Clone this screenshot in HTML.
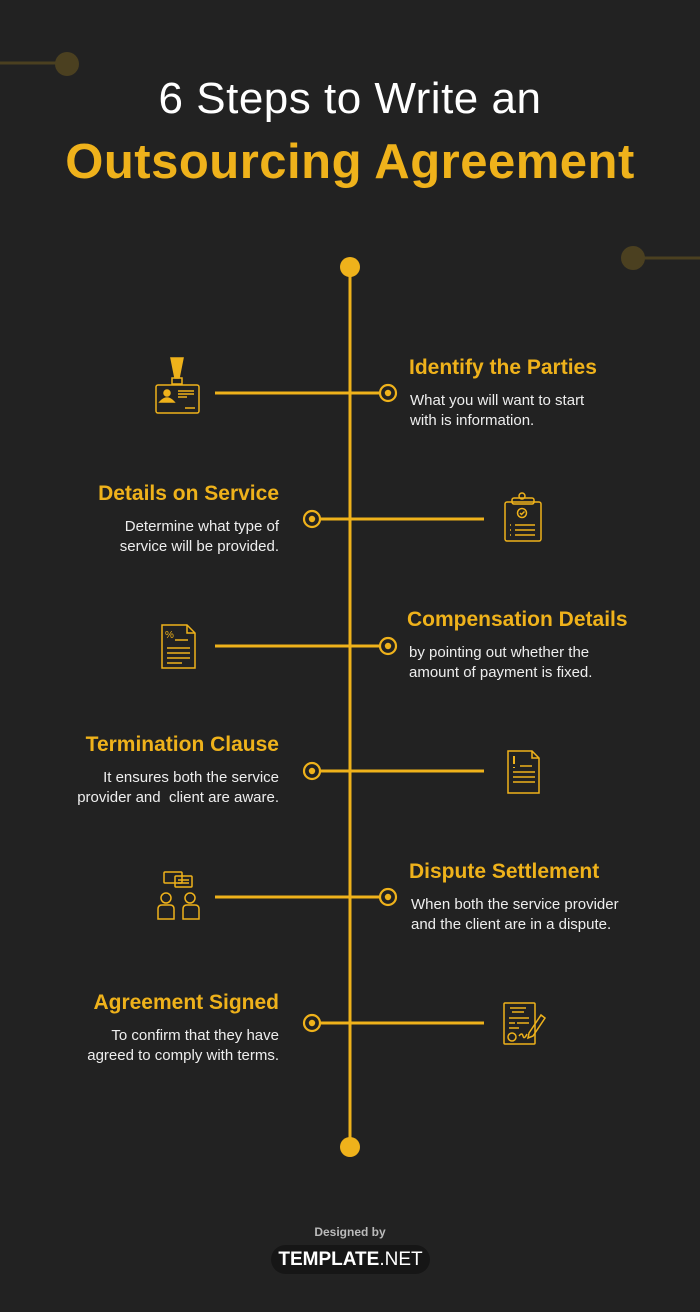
<!DOCTYPE html>
<html><head><meta charset="utf-8"><style>
html,body{margin:0;padding:0;background:#222222;}
body{width:700px;height:1312px;position:relative;overflow:hidden;font-family:"Liberation Sans",sans-serif;}
.t{position:absolute;font-weight:bold;font-size:21px;color:#efb21b;white-space:nowrap;}
.b{position:absolute;font-size:15px;line-height:20px;color:#eee;white-space:nowrap;}
.r{text-align:right;}
</style></head><body>
<svg width="700" height="1312" style="position:absolute;left:0;top:0">
<g fill="#4b4020" stroke="#4b4020">
<line x1="0" y1="63" x2="58" y2="63" stroke-width="3"/><circle cx="67" cy="64" r="12" stroke="none"/>
<line x1="640" y1="258" x2="700" y2="258" stroke-width="3"/><circle cx="633" cy="258" r="12" stroke="none"/>
</g>
<g stroke="#efb21b" stroke-width="3" fill="none">
<line x1="350" y1="267" x2="350" y2="1147"/>
<line x1="215" y1="393" x2="381" y2="393"/>
<line x1="319" y1="519" x2="484" y2="519"/>
<line x1="215" y1="646" x2="381" y2="646"/>
<line x1="319" y1="771" x2="484" y2="771"/>
<line x1="215" y1="897" x2="381" y2="897"/>
<line x1="319" y1="1023" x2="484" y2="1023"/>
<g stroke-width="2.2">
<circle cx="388" cy="393" r="8"/><circle cx="312" cy="519" r="8"/><circle cx="388" cy="646" r="8"/>
<circle cx="312" cy="771" r="8"/><circle cx="388" cy="897" r="8"/><circle cx="312" cy="1023" r="8"/>
</g>
</g>
<g fill="#efb21b">
<circle cx="350" cy="267" r="10"/><circle cx="350" cy="1147" r="10"/>
<circle cx="388" cy="393" r="3.2"/><circle cx="312" cy="519" r="3.2"/><circle cx="388" cy="646" r="3.2"/>
<circle cx="312" cy="771" r="3.2"/><circle cx="388" cy="897" r="3.2"/><circle cx="312" cy="1023" r="3.2"/>
</g>
<g stroke="#efb21b" stroke-width="1.5" fill="none">
<rect x="156" y="385" width="43" height="28" rx="2"/>
<polygon points="171,358 183,358 179,378 175,378" fill="#efb21b"/>
<rect x="172" y="378" width="10" height="6"/>
<circle cx="167" cy="393" r="3" fill="#efb21b"/><path d="M160 402 q7-8 14 0z" fill="#efb21b"/>
<path d="M178 391h16M178 394h16M178 397h9M185 408h10"/>
<rect x="505" y="502" width="36" height="39" rx="2"/>
<rect x="512" y="498" width="22" height="6" rx="2"/><circle cx="522" cy="496" r="3"/>
<circle cx="522" cy="513" r="4.5"/><path d="M520 513l1.5 1.5 3-3"/>
<path d="M510 525h1M515 525h20M510 530h1M515 530h20M510 535h1M515 535h20"/>
<path d="M162 625h25l8 8v35h-33z"/><path d="M187 625v8h8"/>
<text x="165" y="638" font-size="10" fill="#efb21b" stroke="none" font-family="Liberation Sans">%</text>
<path d="M175 640h13M167 648h23M167 653h23M167 658h23M167 663h15"/>
<path d="M508 751h24l7 7v35h-31z"/><path d="M532 751v7h7"/>
<path d="M514 756v8M514 767v1" stroke-width="2"/>
<path d="M520 766h12M513 772h22M513 777h22M513 782h22"/>
<rect x="164" y="872" width="18" height="11" rx="1"/><rect x="175" y="876" width="17" height="11" rx="1"/>
<path d="M178 880h11M178 883h11"/>
<circle cx="166" cy="898" r="5"/><circle cx="190" cy="898" r="5"/>
<path d="M158 919v-10q0-4 4-4h8q4 0 4 4v10zM183 919v-10q0-4 4-4h8q4 0 4 4v10z"/>
<rect x="504" y="1003" width="31" height="41" rx="1"/>
<path d="M510 1008h16M512 1012h12M509 1018h20M509 1023h6M517 1023h12M509 1028h10"/>
<circle cx="512" cy="1037" r="4"/><path d="M519 1036q3-4 4 0t4-2"/>
<path d="M529 1033l12-18 4 3-12 18-5 2z"/>
</g>
</svg>
<div style="position:absolute;left:0;width:700px;top:74px;text-align:center;color:#fff;font-size:44px;letter-spacing:0.5px;">6 Steps to Write an</div>
<div style="position:absolute;left:0;width:700px;top:134px;text-align:center;color:#efb21b;font-size:49px;font-weight:bold;letter-spacing:0.5px;">Outsourcing Agreement</div>

<div class="t" style="left:409px;top:356px">Identify the Parties</div>
<div class="b" style="left:410px;top:391px">What you will want to start<br>with is information.</div>

<div class="t r" style="right:421px;top:482px">Details on Service</div>
<div class="b r" style="right:421px;top:517px">Determine what type of<br>service will be provided.</div>

<div class="t" style="left:407px;top:608px">Compensation Details</div>
<div class="b" style="left:409px;top:643px">by pointing out whether the<br>amount of payment is fixed.</div>

<div class="t r" style="right:421px;top:733px">Termination Clause</div>
<div class="b r" style="right:421px;top:768px">It ensures both the service<br>provider and&nbsp; client are aware.</div>

<div class="t" style="left:409px;top:860px">Dispute Settlement</div>
<div class="b" style="left:411px;top:895px">When both the service provider<br>and the client are in a dispute.</div>

<div class="t r" style="right:421px;top:991px">Agreement Signed</div>
<div class="b r" style="right:421px;top:1026px">To confirm that they have<br>agreed to comply with terms.</div>

<div style="position:absolute;left:0;width:700px;top:1225px;text-align:center;color:#bbb;font-size:12px;font-weight:bold;">Designed by</div>
<div style="position:absolute;left:271px;top:1245px;width:159px;height:29px;border-radius:15px;background:#161616;color:#fff;text-align:center;line-height:29px;font-size:19px;"><b>TEMPLATE</b>.NET</div>
</body></html>
